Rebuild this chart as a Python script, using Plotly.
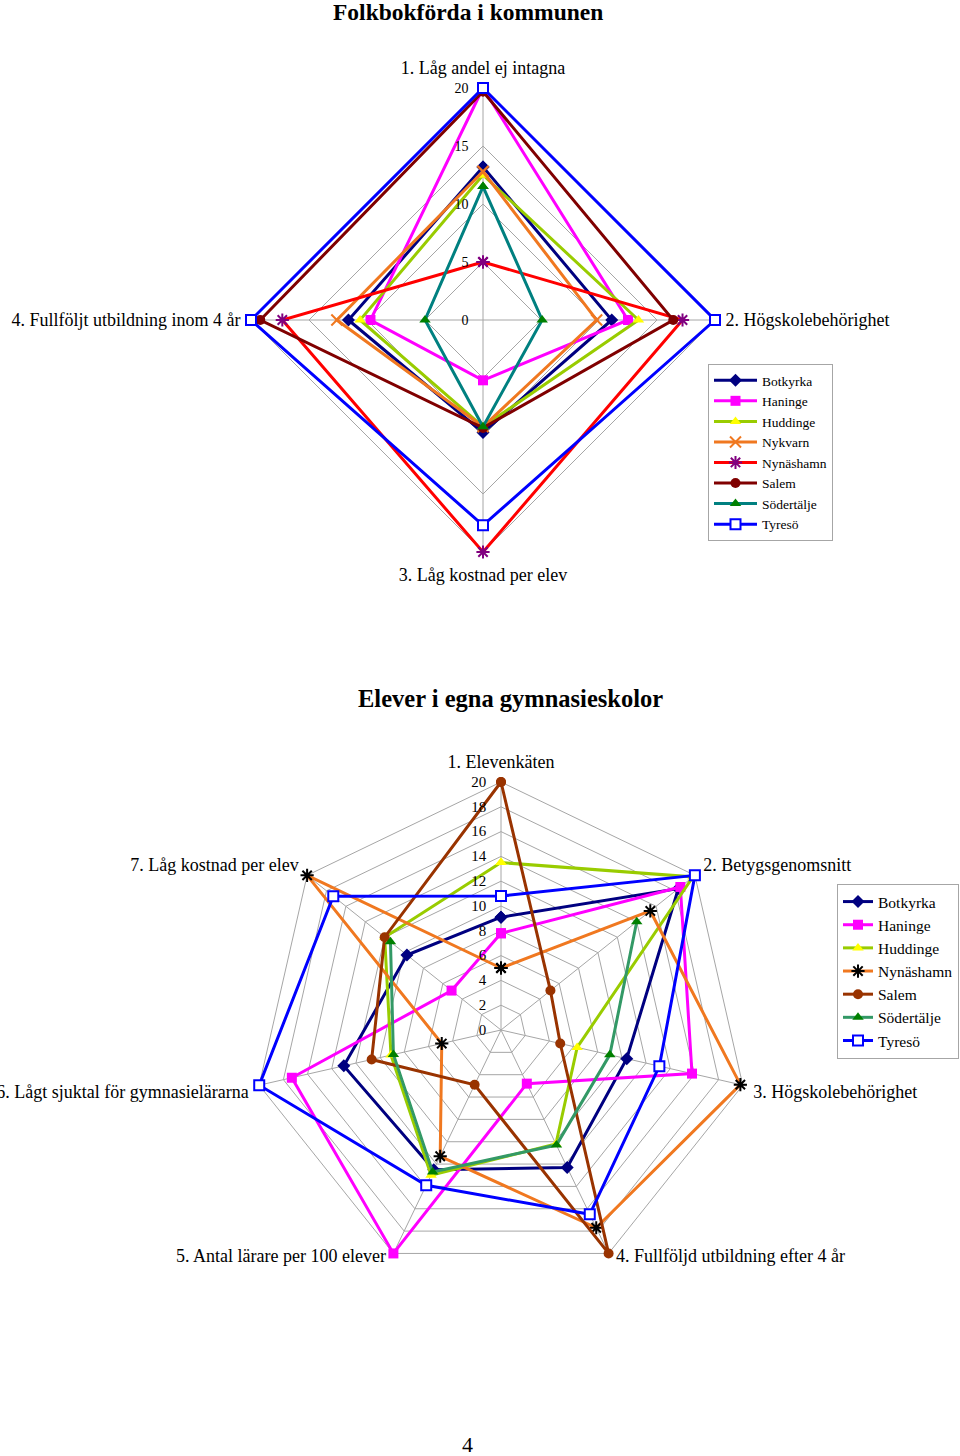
import math
import plotly.graph_objects as go

FONT = "Liberation Serif"

# ---------------- Chart 1: Folkbokförda i kommunen ----------------
cats1 = ["1. Låg andel ej intagna", "2. Högskolebehörighet",
         "3. Låg kostnad per elev", "4. Fullföljt utbildning inom 4 år"]
c1_botkyrka = [13.2, 11.1, 9.7, 11.6]
c1_haninge = [20.0, 12.5, 5.2, 9.7]
c1_huddinge = [12.5, 13.4, 9.2, 10.6]
c1_nykvarn = [12.8, 9.8, 9.2, 12.6]
c1_nynashamn = [5.0, 17.2, 20.0, 17.3]
c1_salem = [19.7, 16.4, 9.3, 19.2]
c1_sodertalje = [11.5, 5.1, 9.2, 5.0]
c1_tyreso = [20.0, 20.0, 17.7, 20.0]

# ---------------- Chart 2: Elever i egna gymnasieskolor ----------------
cats2 = ["1. Elevenkäten", "2. Betygsgenomsnitt", "3. Högskolebehörighet",
         "4. Fullföljd utbildning efter 4 år", "5. Antal lärare per 100 elever",
         "6. Lågt sjuktal för gymnasielärarna", "7. Låg kostnad per elev"]
c2_botkyrka = [9.1, 18.3, 10.4, 12.3, 12.5, 13.0, 9.7]
c2_haninge = [7.8, 18.5, 15.8, 4.8, 20.0, 17.3, 5.1]
c2_huddinge = [13.5, 19.8, 6.3, 10.2, 13.0, 9.1, 12.0]
c2_nynashamn = [5.0, 15.4, 19.8, 17.7, 11.3, 4.9, 20.0]
c2_salem = [20.0, 5.1, 4.9, 20.0, 4.9, 10.7, 12.0]
c2_sodertalje = [None, 14.0, 9.0, 10.3, 12.7, 8.9, 11.4]
c2_tyreso = [10.8, 20.0, 13.1, 16.5, 13.9, 20.0, 17.3]

# name, values, line color, marker color, symbol
series1 = [
    ("Botkyrka", c1_botkyrka, "#000080", "#000080", "diamond"),
    ("Haninge", c1_haninge, "#FF00FF", "#FF00FF", "square"),
    ("Huddinge", c1_huddinge, "#99CC00", "#FFFF00", "triangle-up"),
    ("Nykvarn", c1_nykvarn, "#F07820", "#F07820", "x-thin-open"),
    ("Nynäshamn", c1_nynashamn, "#FF0000", "#800080", "asterisk-open"),
    ("Salem", c1_salem, "#800000", "#800000", "circle"),
    ("Södertälje", c1_sodertalje, "#008080", "#008000", "triangle-up"),
    ("Tyresö", c1_tyreso, "#0000FF", "#0000FF", "hollow-square"),
]
series2 = [
    ("Botkyrka", c2_botkyrka, "#000080", "#000080", "diamond"),
    ("Haninge", c2_haninge, "#FF00FF", "#FF00FF", "square"),
    ("Huddinge", c2_huddinge, "#99CC00", "#FFFF00", "triangle-up"),
    ("Nynäshamn", c2_nynashamn, "#F07820", "#000000", "asterisk-open"),
    ("Salem", c2_salem, "#993300", "#993300", "circle"),
    ("Södertälje", c2_sodertalje, "#339966", "#008000", "triangle-up"),
    ("Tyresö", c2_tyreso, "#0000FF", "#0000FF", "hollow-square"),
]

fig = go.Figure()


def marker_for(sym, mc):
    if sym == "hollow-square":
        return dict(symbol="square", size=10, color="white",
                    line=dict(color=mc, width=2))
    if sym.endswith("open"):
        return dict(symbol=sym, size=11, color=mc, line=dict(color=mc, width=2))
    return dict(symbol=sym, size=10, color=mc, line=dict(width=0))


def add(series, cats, subplot, legend):
    for name, vals, lc, mc, sym in series:
        fig.add_trace(go.Scatterpolar(
            r=list(vals) + [vals[0]],
            theta=list(cats) + [cats[0]],
            mode="lines+markers",
            name=name,
            subplot=subplot,
            legend=legend,
            line=dict(color=lc, width=3),
            marker=marker_for(sym, mc),
            connectgaps=False,
            cliponaxis=False,
        ))


add(series1, cats1, "polar", "legend")
add(series2, cats2, "polar2", "legend2")

W, H = 960, 1456
VMAX = 20          # outer grid ring value
RMAX = 20.3        # a little head-room so lines on the outer ring are not clipped
C1 = (483, 320, 232)   # centre x, centre y, pixel radius of the 20-ring
C2 = (501, 1030, 248)


def dom(cx, cy, r):
    r = r * RMAX / VMAX
    return dict(x=[(cx - r) / W, (cx + r) / W],
                y=[(H - cy - r) / H, (H - cy + r) / H])


grid = "#A6A6A6"

# chart 2: the two bottom labels are drawn as annotations (closer to the vertices)
bottom_idx = [3, 4]
ticktext2 = ["" if i in bottom_idx else c for i, c in enumerate(cats2)]


def polar(c, dtick, tsize, cats, ticktext):
    cx, cy, r = c
    return dict(
        domain=dom(cx, cy, r),
        gridshape="linear",
        bgcolor="white",
        radialaxis=dict(range=[0, RMAX], tick0=0, dtick=dtick, angle=90,
                        side="counterclockwise",
                        tickangle=90, ticks="outside", ticklen=9,
                        tickcolor="rgba(0,0,0,0)",
                        showline=False, gridcolor=grid, gridwidth=1,
                        tickfont=dict(family=FONT, size=tsize)),
        angularaxis=dict(rotation=90, direction="clockwise", showline=False,
                         gridcolor=grid,
                         tickmode="array", tickvals=cats, ticktext=ticktext,
                         ticks="outside", ticklen=3, tickcolor="rgba(0,0,0,0)",
                         tickfont=dict(family=FONT, size=18)),
    )


annotations = [
    dict(text="<b>Folkbokförda i kommunen</b>", x=468 / W, y=1 - 12 / H,
         xref="paper", yref="paper", showarrow=False, yanchor="middle",
         font=dict(family=FONT, size=23.5)),
    dict(text="<b>Elever i egna gymnasieskolor</b>", x=510 / W, y=1 - 698 / H,
         xref="paper", yref="paper", showarrow=False, yanchor="middle",
         font=dict(family=FONT, size=24.5)),
    dict(text="4", x=467 / W, y=1 - 1444 / H, xref="paper", yref="paper",
         showarrow=False, yanchor="middle", font=dict(family=FONT, size=22)),
]
cx, cy, R = C2
n = len(cats2)
for i in bottom_idx:
    a = math.radians(90 - i * 360 / n)
    vx = cx + R * math.cos(a)
    vy = cy - R * math.sin(a)
    left = math.cos(a) > 0
    annotations.append(dict(
        text=cats2[i], x=(vx + (5 if left else -5)) / W, y=1 - (vy + 3) / H,
        xref="paper", yref="paper", showarrow=False,
        xanchor="left" if left else "right", yanchor="middle",
        font=dict(family=FONT, size=18)))

fig.update_layout(
    width=W, height=H,
    margin=dict(l=0, r=0, t=0, b=0),
    paper_bgcolor="white",
    font=dict(family=FONT, color="black"),
    polar=polar(C1, 5, 14, cats1, cats1),
    polar2=polar(C2, 2, 15, cats2, ticktext2),
    legend=dict(x=708 / W, y=1 - 364 / H, xanchor="left", yanchor="top",
                bordercolor="#A6A6A6", borderwidth=1, bgcolor="white",
                itemwidth=43,
                font=dict(family=FONT, size=13.5), tracegroupgap=0),
    legend2=dict(x=837 / W, y=1 - 884 / H, xanchor="left", yanchor="top",
                 bordercolor="#A6A6A6", borderwidth=1, bgcolor="white",
                 font=dict(family=FONT, size=15.5), tracegroupgap=0),
    annotations=annotations,
)

fig.write_html("out.html")
